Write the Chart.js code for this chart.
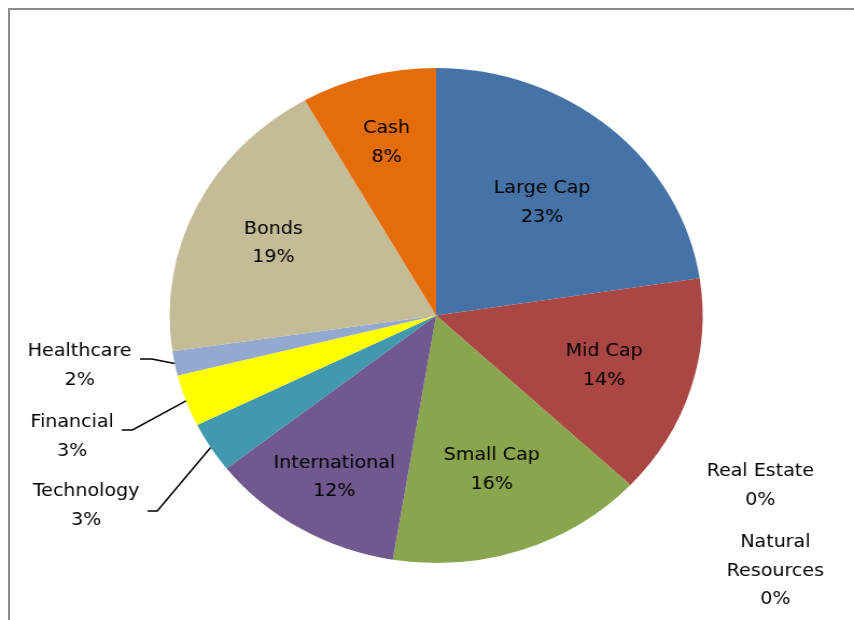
<!DOCTYPE html>
<html>
<head>
<meta charset="utf-8">
<script src="https://cdn.jsdelivr.net/npm/chart.js@4.4.1/dist/chart.umd.min.js"></script>
<style>
  body { margin: 0; background: #fff; overflow: hidden; }
  #frame {
    position: absolute; left: 8px; top: 8px; width: 900px; height: 700px;
    border-top: 2px solid #8c8c8c; border-left: 2px solid #8c8c8c;
  }
  #wrap {
    position: absolute; left: 0; top: 0; width: 793px; height: 620px;
    transform: scaleX(1.0769); transform-origin: 0 0;
  }
</style>
</head>
<body>
<div id="frame"></div>
<div id="wrap"><canvas id="pie" width="793" height="620"></canvas></div>

<script>
/* =======================
   DADOS
======================= */
const categorias = ["Large Cap", "Mid Cap", "Real Estate", "Natural Resources", "Small Cap",
  "International", "Technology", "Financial", "Healthcare", "Bonds", "Cash"];
const percentuais = [22.6, 14.4, 0, 0, 15.6, 11.8, 3.3, 3.4, 1.6, 19.1, 8.2];
const cores = ["#4572A7", "#AA4643", "#3D96AE", "#DB843D", "#89A54E",
  "#71588F", "#4198AF", "#FFFF00", "#93A9CF", "#C4BC97", "#E46C0A"];

/* =======================
   RÓTULOS
======================= */
// rótulos dentro da fatia: fração do raio
const dentro = { 0: 0.61, 1: 0.66, 4: 0.65, 5: 0.75, 9: 0.68, 10: 0.73 };
// rótulos fora, com linha guia (texto, cotovelo)
const fora = {
  6: { x: 80, y: 506, lx: 137, ly: 511, ex: 146 },
  7: { x: 67, y: 437, lx: 113, ly: 430, ex: 123 },
  8: { x: 74, y: 366, lx: 130, ly: 359, ex: 141 },
  2: { x: 706, y: 486 },
  3: { x: 720, y: 571, quebra: true }
};

const rotulos = {
  id: "rotulos",
  afterDatasetsDraw(chart) {
    const ctx = chart.ctx;
    const arcs = chart.getDatasetMeta(0).data;
    const linha = 28.5;
    ctx.save();
    ctx.font = "17.7px 'DejaVu Sans', sans-serif";
    ctx.fillStyle = "#000";
    ctx.textAlign = "center";
    ctx.textBaseline = "middle";

    arcs.forEach((arc, i) => {
      const { x, y, startAngle, endAngle, outerRadius } = arc.getProps(
        ["x", "y", "startAngle", "endAngle", "outerRadius"], true);
      const meio = (startAngle + endAngle) / 2;
      let linhas = [categorias[i], Math.round(percentuais[i]) + "%"];
      let px, py;

      if (dentro[i] !== undefined) {
        px = x + Math.cos(meio) * outerRadius * dentro[i];
        py = y + Math.sin(meio) * outerRadius * dentro[i] + 2;
      } else {
        const f = fora[i];
        px = f.x; py = f.y;
        if (f.quebra) linhas = categorias[i].split(" ").concat(linhas.slice(1));
        if (f.lx !== undefined) {
          ctx.beginPath();
          ctx.strokeStyle = "#000";
          ctx.lineWidth = 1.5;
          ctx.moveTo(f.lx, f.ly);
          ctx.lineTo(f.ex, f.ly);
          ctx.lineTo(x + Math.cos(meio) * outerRadius, y + Math.sin(meio) * outerRadius);
          ctx.stroke();
        }
      }

      const topo = py - (linhas.length - 1) * linha / 2;
      linhas.forEach((t, k) => ctx.fillText(t, px, topo + k * linha));
    });
    ctx.restore();
  }
};

/* =======================
   GRÁFICO
======================= */
new Chart(document.getElementById("pie"), {
  type: "pie",
  data: {
    labels: categorias,
    datasets: [{
      data: percentuais,
      backgroundColor: cores,
      borderWidth: 0
    }]
  },
  options: {
    responsive: false,
    animation: false,
    layout: { padding: { left: 157.5, right: 140.5, top: 68, bottom: 57 } },
    plugins: {
      legend: { display: false },
      tooltip: { enabled: false }
    }
  },
  plugins: [rotulos]
});
</script>
</body>
</html>
